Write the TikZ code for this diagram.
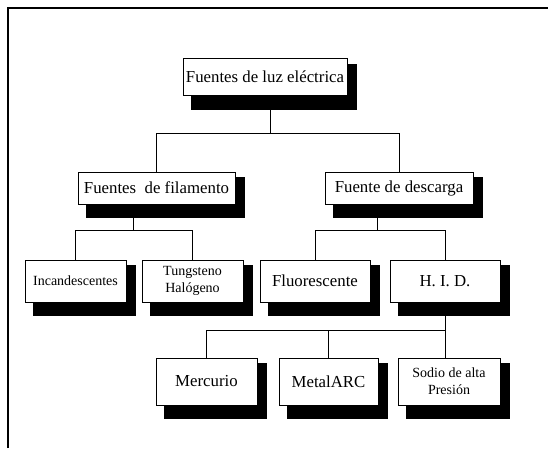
\documentclass[tikz,border=0pt]{standalone}
\usepackage{fontspec}
\setmainfont{Liberation Serif}
\usetikzlibrary{backgrounds}
\begin{document}
\begin{tikzpicture}[x=1pt,y=-1pt,
  box/.style={draw=black,fill=white,line width=0.9pt,inner sep=0pt,outer sep=0pt,align=center},
  big/.style={font=\fontsize{16.8}{19}\selectfont},
  small/.style={font=\fontsize{14}{17}\selectfont},
  conn/.style={draw=black,line width=0.9pt},
  frame/.style={draw=black,line width=1.1pt}]
\useasboundingbox (0,0) rectangle (548,448);
\draw[frame] (8,448) -- (8,8) -- (548,8);
% boxes
\node[box,big,minimum width=164pt,minimum height=37pt] (root) at (265,77) {Fuentes de luz eléctrica};
\node[box,big,minimum width=157pt,minimum height=32pt] (fil) at (156.5,188) {Fuentes\ \ de filamento};
\node[box,big,minimum width=148pt,minimum height=32pt] (des) at (399,188) {Fuente de descarga};
\node[box,small,minimum width=101pt,minimum height=42pt] (inc) at (75.5,281) {Incandescentes};
\node[box,small,minimum width=101pt,minimum height=42pt] (tun) at (192.5,281) {Tungsteno\\Halógeno};
\node[box,big,minimum width=110pt,minimum height=42pt] (flu) at (315,281) {Fluorescente};
\node[box,big,minimum width=110pt,minimum height=42pt] (hid) at (445,281) {H. I. D.};
\node[box,big,minimum width=101pt,minimum height=47pt] (mer) at (206.5,381.5) {Mercurio};
\node[box,big,minimum width=99pt,minimum height=47pt] (met) at (328.5,381.5) {MetalARC};
\node[box,small,minimum width=102pt,minimum height=47pt] (sod) at (449,381.5) {Sodio de alta\\Presión};
% junctions
\coordinate (j0) at (270,133);
\coordinate (j1) at (133,230);
\coordinate (j2) at (377,230);
\coordinate (j3) at (445,330);
\begin{scope}[on background layer]
  \foreach \n in {root,fil,des,inc,tun,flu,hid,mer,met,sod}
    \fill[black] ([shift={(8,5)}]\n.north west) rectangle ([shift={(10,14)}]\n.south east);
  \draw[conn] (root.south -| j0) -- (j0);
  \draw[conn] (fil.north |- j0) -- (des.north |- j0);
  \draw[conn] (fil.north |- j0) -- (fil.north);
  \draw[conn] (des.north |- j0) -- (des.north);
  \draw[conn] (fil.south -| j1) -- (j1);
  \draw[conn] (inc.north |- j1) -- (tun.north |- j1);
  \draw[conn] (inc.north |- j1) -- (inc.north);
  \draw[conn] (tun.north |- j1) -- (tun.north);
  \draw[conn] (des.south -| j2) -- (j2);
  \draw[conn] (flu.north |- j2) -- (hid.north |- j2);
  \draw[conn] (flu.north |- j2) -- (flu.north);
  \draw[conn] (hid.north |- j2) -- (hid.north);
  \draw[conn] (hid.south -| j3) -- (j3);
  \draw[conn] (mer.north |- j3) -- (j3);
  \draw[conn] (mer.north |- j3) -- (mer.north);
  \draw[conn] (met.north |- j3) -- (met.north);
  \draw[conn] (j3) -- (j3 |- sod.north);
\end{scope}
\end{tikzpicture}
\end{document}
